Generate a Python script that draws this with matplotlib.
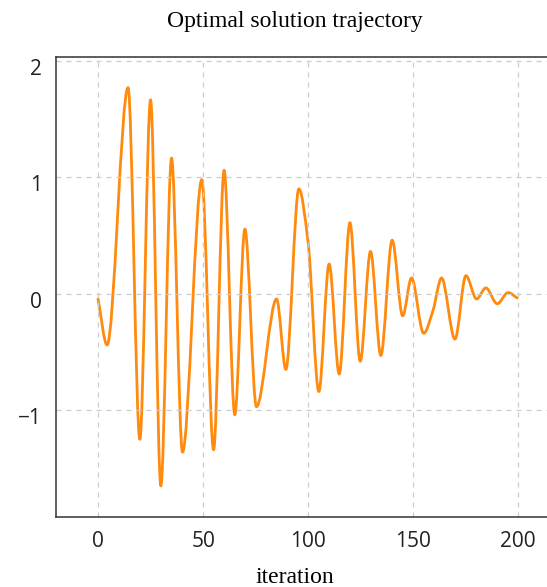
import numpy as np
import matplotlib
matplotlib.use('Agg')
import matplotlib.pyplot as plt
import matplotlib.transforms as mtransforms
from matplotlib.path import Path
from matplotlib.patches import PathPatch

# data (turning points of the trajectory)
iteration = [0, 4.3, 14.3, 19.9, 25.0, 29.9, 35.0, 40.2, 49.4, 55.0, 60.0, 65.1,
             69.9, 75.4, 85.0, 89.4, 95.6, 100.0, 105.1, 110.0, 114.8, 119.9,
             124.8, 129.7, 134.6, 140.0, 145.0, 149.2, 155.0, 159.5, 163.5,
             169.9, 175.1, 180.2, 184.6, 190.0, 195.2, 199.5]
value = [-0.045, -0.44, 1.77, -1.25, 1.665, -1.65, 1.165, -1.36, 0.98, -1.34, 1.06, -1.04,
         0.555, -0.97, -0.045, -0.65, 0.90, 0.44, -0.84, 0.255, -0.69, 0.61,
         -0.58, 0.363, -0.53, 0.46, -0.19, 0.135, -0.34, -0.14, 0.135,
         -0.39, 0.155, -0.045, 0.05, -0.086, 0.01, -0.037]

x_ticks = [0, 50, 100, 150, 200]
y_ticks = [-1, 0, 1, 2]


def smooth_path(xs, ys):
    """Monotone cubic (Fritsch-Carlson) bezier path through the points."""
    xs = np.asarray(xs, float)
    ys = np.asarray(ys, float)
    h = np.diff(xs)
    d = np.diff(ys) / h
    m = np.zeros_like(ys)
    m[0], m[-1] = d[0], d[-1]
    for i in range(1, len(ys) - 1):
        if d[i - 1] * d[i] > 0:
            w1 = 2 * h[i] + h[i - 1]
            w2 = h[i] + 2 * h[i - 1]
            m[i] = (w1 + w2) / (w1 / d[i - 1] + w2 / d[i])
    verts = [(xs[0], ys[0])]
    codes = [Path.MOVETO]
    for i in range(len(xs) - 1):
        verts += [(xs[i] + h[i] / 3, ys[i] + m[i] * h[i] / 3),
                  (xs[i + 1] - h[i] / 3, ys[i + 1] - m[i + 1] * h[i] / 3),
                  (xs[i + 1], ys[i + 1])]
        codes += [Path.CURVE4] * 3
    return Path(verts, codes)


fig = plt.figure(figsize=(5.47, 5.87), dpi=100)
ax = fig.add_axes([0.1024, 0.1187, 0.8976, 0.7837])

ax.add_patch(PathPatch(smooth_path(iteration, value), facecolor='none',
                       edgecolor='#ff8a0d', linewidth=2.0, capstyle='round',
                       joinstyle='round'))

ax.set_xlim(-20, 213.7)
ax.set_ylim(-1.92, 2.03)
ax.set_xticks(x_ticks)
ax.set_yticks(y_ticks)
ax.set_yticklabels(['\u22121', '0', '1', '2'])
ax.grid(True, color='#cccccc', linestyle=(0, (4, 4)), linewidth=0.9)
ax.tick_params(length=0, labelsize=15, pad=10)
for lab in ax.get_xticklabels() + ax.get_yticklabels():
    lab.set_family('Open Sans')
    lab.set_color('#222222')

# y labels sit a little below their gridlines in the reference
shift = mtransforms.ScaledTranslation(0, -6 / 100, fig.dpi_scale_trans)
for lab in ax.get_yticklabels():
    lab.set_transform(lab.get_transform() + shift)

ax.spines['right'].set_visible(False)
for s in ['left', 'top', 'bottom']:
    ax.spines[s].set_color('#333333')
    ax.spines[s].set_linewidth(1.1)

fig.text(0.539, 0.964, 'Optimal solution trajectory', ha='center', va='center',
         family='Liberation Serif', fontsize=17)
fig.text(0.539, 0.017, 'iteration', ha='center', va='center',
         family='Liberation Serif', fontsize=17)

fig.savefig('out.png', dpi=100)
